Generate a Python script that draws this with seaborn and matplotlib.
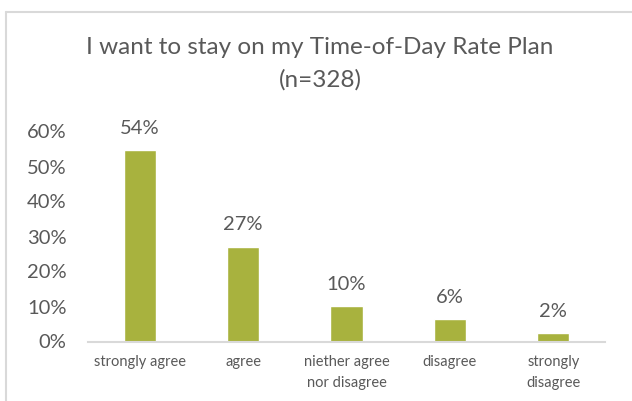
import matplotlib
matplotlib.use("Agg")
import matplotlib.pyplot as plt
import seaborn as sns
import pandas as pd
from matplotlib.lines import Line2D

categories = ["strongly agree", "agree", "niether agree\nnor disagree", "disagree", "strongly\ndisagree"]
values = [0.548, 0.271, 0.101, 0.063, 0.024]
labels = ["54%", "27%", "10%", "6%", "2%"]
yticks = [0, 0.1, 0.2, 0.3, 0.4, 0.5, 0.6]
ytick_labels = ["0%", "10%", "20%", "30%", "40%", "50%", "60%"]
title_lines = ["I want to stay on my Time-of-Day Rate Plan", "(n=328)"]

sns.set_theme(style="white")
plt.rcParams["font.family"] = ["Lato", "DejaVu Sans"]
grey = "#595959"

W, H = 632, 401
df = pd.DataFrame({"cat": categories, "val": values})
fig = plt.figure(figsize=(W/100, H/100), dpi=100)
ax = fig.add_axes([88/W, 1-341.5/H, (605-88)/W, (341.5-131.5)/H])
sns.barplot(data=df, x="cat", y="val", color="#A8B23E", width=0.31, ax=ax, saturation=1)

ax.set_ylim(0, 0.6)
ax.set_yticks(yticks)
ax.set_yticklabels(ytick_labels, fontsize=14.5, color=grey)
ax.set_xlabel("")
ax.set_ylabel("")
ax.tick_params(axis="x", labelsize=10.5, colors=grey, length=0, pad=10)
ax.tick_params(axis="y", length=0, pad=15.5)
for t in ax.get_xticklabels():
    t.set_linespacing(1.6)
for s in ["top", "right", "left"]:
    ax.spines[s].set_visible(False)
ax.spines["bottom"].set_color("#D9D9D9")
ax.spines["bottom"].set_linewidth(1.5)
ax.set_xlim(-0.5, 4.5)

for i, (v, l) in enumerate(zip(values, labels)):
    ax.annotate(l, (i, v), xytext=(0, 9.5), textcoords="offset points",
                ha="center", va="bottom", fontsize=14.5, color=grey)

fig.text(320/W, 1-48/H, title_lines[0], ha="center", va="center", fontsize=17.5, color=grey)
fig.text(320/W, 1-80/H, title_lines[1], ha="center", va="center", fontsize=17.5, color=grey)

fig.add_artist(Line2D([6/W, 1], [1-12/H, 1-12/H], transform=fig.transFigure, color="#D9D9D9", lw=1.5))
fig.add_artist(Line2D([6/W, 6/W], [0, 1-12/H], transform=fig.transFigure, color="#D9D9D9", lw=1.5))

fig.savefig("out.png", dpi=100)
